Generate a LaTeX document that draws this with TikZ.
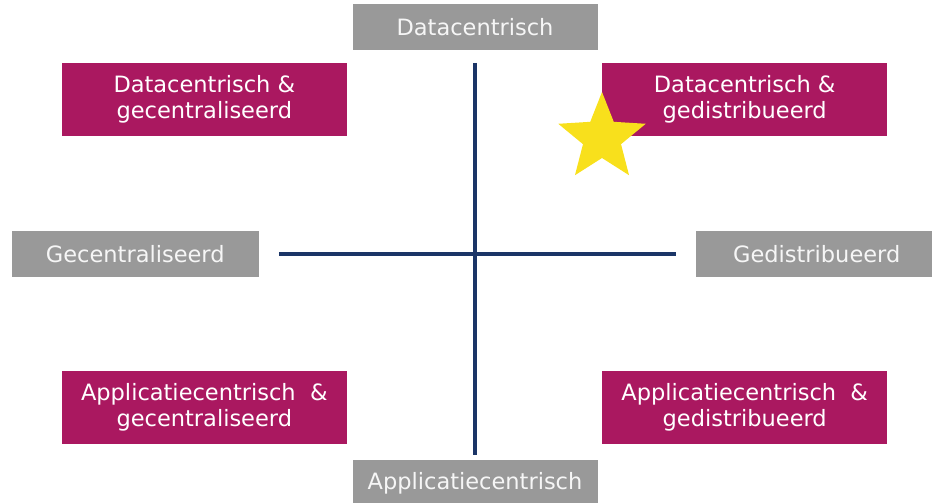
\documentclass[tikz,border=0pt]{standalone}
\usepackage{fontspec}
\setmainfont{DejaVu Sans}
\usetikzlibrary{positioning, shapes.geometric}
\definecolor{axisgray}{HTML}{999999}
\definecolor{quadpurple}{HTML}{AA1860}
\definecolor{axisblue}{HTML}{1B3567}
\definecolor{stargold}{HTML}{F8E01C}

\begin{document}
\begin{tikzpicture}[node distance=1pt,
  axislabel/.style={fill=axisgray, text=white!93!gray, minimum width=245pt,
    minimum height=46pt, inner sep=0pt, font=\fontsize{22.5}{26}\selectfont},
  quad/.style={fill=quadpurple, text=white, minimum width=285pt,
    minimum height=73pt, inner sep=0pt, align=center,
    font=\fontsize{22.5}{26}\selectfont},
  axisline/.style={axisblue, line width=4.5pt}]
  \useasboundingbox (0,0) rectangle (932pt,503pt);
  \coordinate (c) at (475pt,249pt);

  % axis labels
  \node[axislabel, above=204pt of c] (data) {Datacentrisch};
  \node[axislabel, below=206pt of c] (appl) {Applicatiecentrisch};
  \node[axislabel, minimum width=247pt, left=216pt of c] (cent) {Gecentraliseerd};
  \node[axislabel, minimum width=241pt, right=221pt of c] (dist) {Gedistribueerd};

  % quadrants
  \node[quad, above left=118pt and 128pt of c] (dc) {Datacentrisch \&\\gecentraliseerd};
  \node[quad, above right=118pt and 127pt of c] (dd) {Datacentrisch \&\\gedistribueerd};
  \node[quad, below left=117pt and 128pt of c] (ac) {Applicatiecentrisch\ \ \&\\gecentraliseerd};
  \node[quad, below right=117pt and 127pt of c] (ad) {Applicatiecentrisch\ \ \&\\gedistribueerd};

  % axes
  \coordinate (vtop) at ([yshift=191pt]c);
  \coordinate (vbot) at ([yshift=-201pt]c);
  \coordinate (hleft) at ([xshift=-196pt]c);
  \coordinate (hright) at ([xshift=201pt]c);
  \draw[axisline] (vtop) -- (vbot);
  \draw[axisline] (hleft) -- (hright);

  \node[star, star points=5, star point ratio=2.3, fill=stargold,
    minimum size=92pt, inner sep=0pt] (mark) at ([shift={(127pt,116pt)}]c) {};
\end{tikzpicture}
\end{document}
